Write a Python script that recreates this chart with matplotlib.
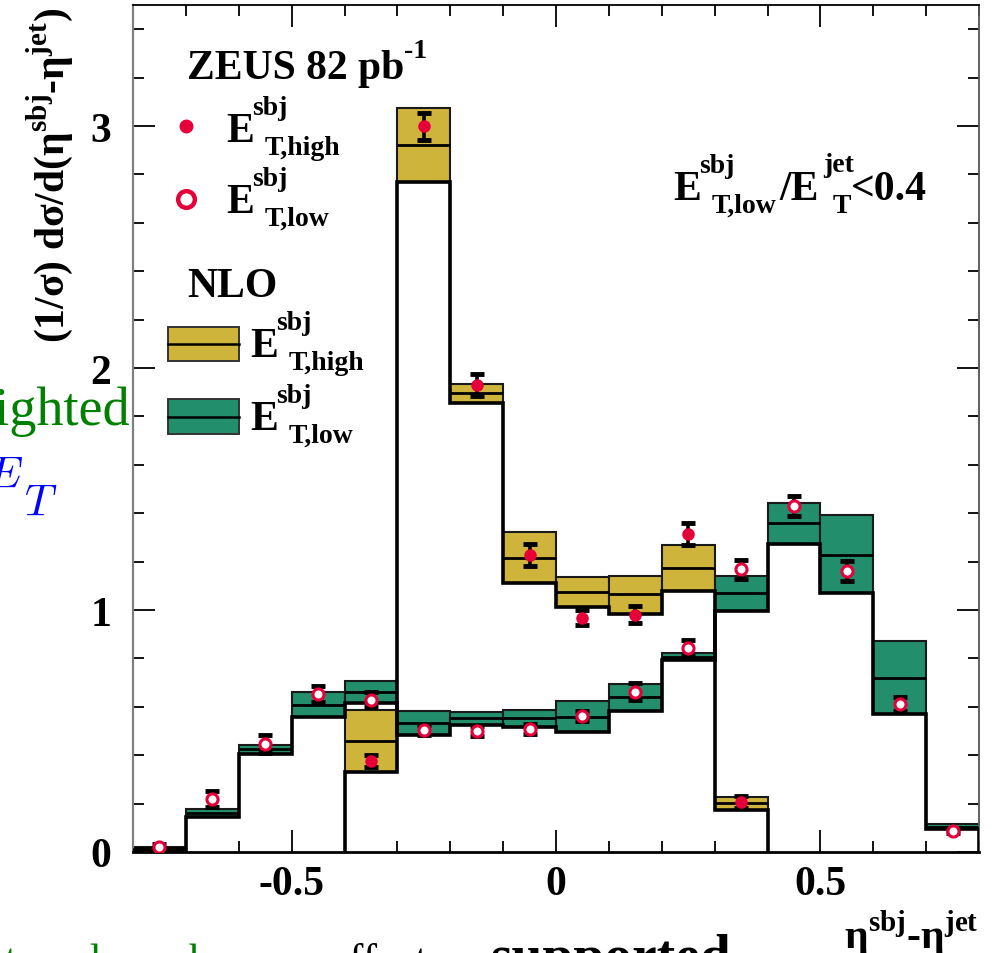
import numpy as np
import matplotlib.pyplot as plt
from matplotlib.patches import Rectangle
from matplotlib.lines import Line2D
from matplotlib.ticker import MultipleLocator

plt.rcParams['font.family'] = 'Liberation Serif'
plt.rcParams['font.weight'] = 'bold'
plt.rcParams['mathtext.fontset'] = 'custom'
plt.rcParams['mathtext.bf'] = 'Liberation Serif:bold'
plt.rcParams['mathtext.rm'] = 'Liberation Serif:bold'

# bin edges in eta_sbj - eta_jet
edges = [-0.8, -0.7, -0.6, -0.5, -0.4, -0.3, -0.2, -0.1, 0.0,
         0.1, 0.2, 0.3, 0.4, 0.5, 0.6, 0.7, 0.8]
high_edges = [-0.4, -0.3, -0.2, -0.1, 0.0, 0.1, 0.2, 0.3, 0.4]

# E_T,high (sbj): NLO band and data
high_lo = [0.331, 2.767, 1.854, 1.113, 1.014, 0.983, 1.080, 0.175]
high_mid = [0.460, 2.921, 1.895, 1.216, 1.073, 1.065, 1.175, 0.201]
high_hi = [0.588, 3.074, 1.934, 1.321, 1.138, 1.142, 1.267, 0.226]
high_data = [0.376, 2.998, 1.930, 1.227, 0.968, 0.981, 1.313, 0.205]
high_err = [0.024, 0.055, 0.046, 0.044, 0.032, 0.034, 0.045, 0.025]

# E_T,low (sbj): NLO band and data
low_lo = [0.010, 0.146, 0.406, 0.556, 0.616, 0.483, 0.525, 0.515,
          0.494, 0.584, 0.793, 0.997, 1.273, 1.070, 0.572, 0.095]
low_mid = [0.016, 0.162, 0.426, 0.607, 0.660, 0.533, 0.552, 0.552,
           0.559, 0.639, 0.807, 1.072, 1.358, 1.229, 0.720, 0.105]
low_hi = [0.022, 0.178, 0.443, 0.662, 0.707, 0.583, 0.580, 0.588,
          0.624, 0.694, 0.821, 1.142, 1.443, 1.394, 0.871, 0.115]
low_data = [0.022, 0.218, 0.445, 0.652, 0.630, 0.504, 0.500, 0.508,
            0.562, 0.663, 0.844, 1.168, 1.430, 1.162, 0.612, 0.088]
low_err = [0.010, 0.033, 0.037, 0.032, 0.030, 0.020, 0.022, 0.022,
           0.022, 0.034, 0.033, 0.038, 0.043, 0.041, 0.030, 0.010]

xticks = [-0.5, 0, 0.5]
xticklabels = ['-0.5', '0', '0.5']
yticks = [0, 1, 2, 3]
yticklabels = ['0', '1', '2', '3']

YELLOW = '#cfb43c'
GREEN = '#228e6c'
RED = '#e6003a'

W, H = 998, 954
def fx(x):
    return x / W
def fy(y):
    return 1 - y / H

fig = plt.figure(figsize=(W / 100, H / 100), dpi=100)
ax = fig.add_axes([fx(133), fy(853), (979 - 133) / W, (853 - 6) / H])


def band(ax, e, lo, mid, hi, color):
    e = np.array(e)
    lo, mid, hi = np.array(lo), np.array(mid), np.array(hi)
    left, right = e[:-1], e[1:]
    ax.bar(left, hi - lo, bottom=lo, width=right - left, align='edge',
           color=color, edgecolor='#1a1a1a', linewidth=1.5, zorder=1)
    ax.hlines(mid, left, right, color='black', linewidth=2, zorder=2)
    ax.stairs(lo, e, baseline=0, color='black', linewidth=2.6, zorder=3)


band(ax, high_edges, high_lo, high_mid, high_hi, YELLOW)
band(ax, edges, low_lo, low_mid, low_hi, GREEN)

hc = 0.5 * (np.array(high_edges[:-1]) + np.array(high_edges[1:]))
lc = 0.5 * (np.array(edges[:-1]) + np.array(edges[1:]))

ax.errorbar(hc, high_data, yerr=high_err, fmt='none', ecolor='black',
            elinewidth=2.6, capsize=5, capthick=3.5, zorder=4)
ax.errorbar(lc, low_data, yerr=low_err, fmt='none', ecolor='black',
            elinewidth=2.6, capsize=5, capthick=3.5, zorder=4)
ax.plot(hc, high_data, 'o', ms=8, color=RED, mec=RED, zorder=5)
ax.plot(lc, low_data, 'o', ms=8, mfc='white', mec=RED, mew=2.2, zorder=5)

ax.set_xlim(-0.8, 0.8)
ax.set_ylim(0, 3.5)
ax.set_xticks(xticks)
ax.set_xticklabels(xticklabels)
ax.set_yticks(yticks)
ax.set_yticklabels(yticklabels)
ax.xaxis.set_minor_locator(MultipleLocator(0.1))
ax.yaxis.set_minor_locator(MultipleLocator(0.2))
ax.tick_params(which='both', direction='in', top=True, right=True,
               width=1.3, labelsize=30)
ax.tick_params(which='major', length=15.6)
ax.tick_params(which='minor', length=7.9)
ax.tick_params(axis='x', pad=9.5)
ax.tick_params(axis='y', pad=15.5)
ax.spines['left'].set_color('#808080')
ax.spines['left'].set_linewidth(1.6)
ax.spines['right'].set_color('#555555')
ax.spines['right'].set_linewidth(1.3)
ax.spines['top'].set_linewidth(1.3)
ax.spines['bottom'].set_linewidth(2)

# axis titles
fig.text(fx(63), fy(8), r'(1/σ) dσ/d(η$^{\mathbf{sbj}}$-η$^{\mathbf{jet}}$)',
         rotation=90, rotation_mode='anchor', ha='right', va='baseline',
         fontsize=30)
fig.text(fx(979), fy(948), r'η$^{\mathbf{sbj}}$-η$^{\mathbf{jet}}$',
         ha='right', va='baseline', fontsize=30)


def et_label(x, y, sup, sub, main='E'):
    fig.text(fx(x), fy(y), main, fontsize=30, ha='left', va='baseline')
    fig.text(fx(x + 26), fy(y - 27), sup, fontsize=20, ha='left', va='baseline')
    fig.text(fx(x + 39), fy(y - 27 + 40), sub, fontsize=20, ha='left', va='baseline')


# legend
fig.text(fx(187), fy(79), 'ZEUS 82 pb', fontsize=30, ha='left', va='baseline')
fig.text(fx(404), fy(58), '-1', fontsize=20, ha='left', va='baseline')
fig.add_artist(Line2D([fx(186)], [fy(127)], marker='o', ms=9, color=RED,
                      mec=RED, linestyle='none'))
fig.add_artist(Line2D([fx(186)], [fy(200)], marker='o', ms=12, mfc='white',
                      mec=RED, mew=3.2, linestyle='none'))
et_label(226, 142, 'sbj', 'T,high')
et_label(226, 213, 'sbj', 'T,low')

fig.text(fx(187), fy(297), 'NLO', fontsize=30, ha='left', va='baseline')
for (y0, y1, col) in [(328, 362, YELLOW), (400, 435, GREEN)]:
    fig.add_artist(Rectangle((fx(168), fy(y1)), fx(239) - fx(168),
                             fy(y0) - fy(y1), facecolor=col,
                             edgecolor='#333333', linewidth=1.4))
    fig.add_artist(Line2D([fx(168), fx(239)], [fy((y0 + y1) / 2)] * 2,
                          color='black', linewidth=1.8))
et_label(250, 357, 'sbj', 'T,high')
et_label(250, 430, 'sbj', 'T,low')

# cut label
et_label(673, 200, 'sbj', 'T,low')
fig.text(fx(779), fy(200), '/E', fontsize=30, ha='left', va='baseline')
fig.text(fx(823), fy(172), 'jet', fontsize=20, ha='left', va='baseline')
fig.text(fx(833), fy(213), 'T', fontsize=20, ha='left', va='baseline')
fig.text(fx(851), fy(200), '<0.4', fontsize=30, ha='left', va='baseline')

# text of the surrounding slide, clipped by the figure edge
fig.text(fx(130), fy(425), 'weighted', color='#008000', fontsize=39,
         fontweight='normal', ha='right', va='baseline')
fig.text(fx(23), fy(488), r'$E$', color='#0000ff', fontsize=32,
         math_fontfamily='cm', ha='right', va='baseline')
fig.text(fx(24), fy(516), r'$T$', color='#0000ff', fontsize=32,
         math_fontfamily='cm', ha='left', va='baseline')
fig.text(fx(322), fy(973), 'due to color coherence', color='#008000',
         fontsize=31, fontweight='normal', ha='right', va='baseline')
fig.text(fx(330), fy(973), 'effects', color='black', fontsize=31,
         fontweight='normal', ha='left', va='baseline')
fig.text(fx(490), fy(974), 'supported', color='black', fontsize=40,
         ha='left', va='baseline')

fig.savefig('out.png', dpi=100)
